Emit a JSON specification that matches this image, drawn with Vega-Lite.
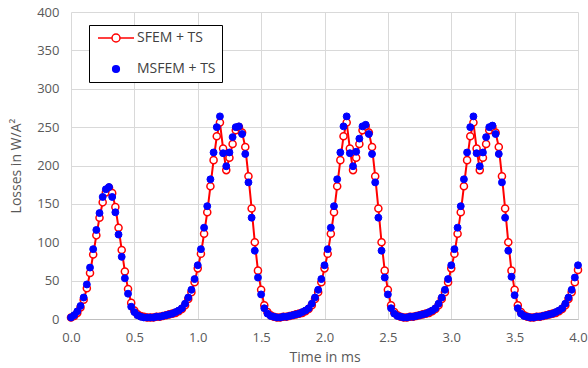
{
  "$schema": "https://vega.github.io/schema/vega-lite/v6.json",
  "width": 507,
  "height": 307,
  "autosize": {"type": "none"},
  "padding": {"left": 71, "top": 12, "right": 10, "bottom": 49},
  "background": "white",
  "config": {"view": {"stroke": null}, "font": "Open Sans"},
  "data": {"values": [
    {"t":0,"sfem":2,"msfem":2},{"t":0.025,"sfem":4,"msfem":5},{"t":0.05,"sfem":8,"msfem":10},{"t":0.075,"sfem":15,"msfem":17},
    {"t":0.1,"sfem":25,"msfem":28},{"t":0.125,"sfem":40,"msfem":45},{"t":0.15,"sfem":60,"msfem":67},{"t":0.175,"sfem":84,"msfem":91},
    {"t":0.2,"sfem":109,"msfem":116},{"t":0.225,"sfem":132,"msfem":138},{"t":0.25,"sfem":152,"msfem":159},{"t":0.275,"sfem":165,"msfem":169},
    {"t":0.3,"sfem":171,"msfem":172},{"t":0.325,"sfem":164,"msfem":159},{"t":0.35,"sfem":146,"msfem":139},{"t":0.375,"sfem":119,"msfem":110},
    {"t":0.4,"sfem":90,"msfem":81},{"t":0.425,"sfem":62,"msfem":53},{"t":0.45,"sfem":39,"msfem":33},{"t":0.475,"sfem":21,"msfem":16},
    {"t":0.5,"sfem":11,"msfem":9},{"t":0.525,"sfem":6,"msfem":5},{"t":0.55,"sfem":4,"msfem":3},{"t":0.575,"sfem":3,"msfem":2},
    {"t":0.6,"sfem":2,"msfem":2},{"t":0.625,"sfem":2,"msfem":2},{"t":0.65,"sfem":2,"msfem":2},{"t":0.675,"sfem":3,"msfem":3},
    {"t":0.7,"sfem":3,"msfem":3},{"t":0.725,"sfem":4,"msfem":4},{"t":0.75,"sfem":5,"msfem":5},{"t":0.775,"sfem":6,"msfem":6},
    {"t":0.8,"sfem":7,"msfem":7},{"t":0.825,"sfem":8,"msfem":9},{"t":0.85,"sfem":10,"msfem":11},{"t":0.875,"sfem":13,"msfem":14},
    {"t":0.9,"sfem":18,"msfem":20},{"t":0.925,"sfem":26,"msfem":28},{"t":0.95,"sfem":35,"msfem":38},{"t":0.975,"sfem":48,"msfem":52},

    {"t":1,"sfem":66,"msfem":70},{"t":1.025,"sfem":85,"msfem":91},{"t":1.05,"sfem":111,"msfem":119},{"t":1.075,"sfem":139,"msfem":147},
    {"t":1.1,"sfem":173,"msfem":182},{"t":1.125,"sfem":207,"msfem":217},{"t":1.15,"sfem":238,"msfem":250},{"t":1.175,"sfem":256,"msfem":264},
    {"t":1.2,"sfem":222,"msfem":216},{"t":1.225,"sfem":194,"msfem":199},{"t":1.25,"sfem":210,"msfem":217},{"t":1.275,"sfem":228,"msfem":237},
    {"t":1.3,"sfem":246,"msfem":250},{"t":1.325,"sfem":250,"msfem":251},{"t":1.35,"sfem":243,"msfem":241},{"t":1.375,"sfem":224,"msfem":215},
    {"t":1.4,"sfem":186,"msfem":178},{"t":1.425,"sfem":144,"msfem":132},{"t":1.45,"sfem":100,"msfem":89},{"t":1.475,"sfem":63,"msfem":54},
    {"t":1.5,"sfem":38,"msfem":32},{"t":1.525,"sfem":18,"msfem":14},{"t":1.55,"sfem":9,"msfem":7},{"t":1.575,"sfem":5,"msfem":4},
    {"t":1.6,"sfem":3,"msfem":3},{"t":1.625,"sfem":2,"msfem":2},{"t":1.65,"sfem":2,"msfem":2},{"t":1.675,"sfem":3,"msfem":3},
    {"t":1.7,"sfem":3,"msfem":3},{"t":1.725,"sfem":4,"msfem":4},{"t":1.75,"sfem":5,"msfem":5},{"t":1.775,"sfem":6,"msfem":6},
    {"t":1.8,"sfem":7,"msfem":7},{"t":1.825,"sfem":8,"msfem":9},{"t":1.85,"sfem":10,"msfem":11},{"t":1.875,"sfem":13,"msfem":14},
    {"t":1.9,"sfem":18,"msfem":20},{"t":1.925,"sfem":26,"msfem":28},{"t":1.95,"sfem":35,"msfem":38},{"t":1.975,"sfem":48,"msfem":52},

    {"t":2,"sfem":66,"msfem":70},{"t":2.025,"sfem":85,"msfem":91},{"t":2.05,"sfem":111,"msfem":119},{"t":2.075,"sfem":139,"msfem":147},
    {"t":2.1,"sfem":173,"msfem":182},{"t":2.125,"sfem":207,"msfem":217},{"t":2.15,"sfem":238,"msfem":251},{"t":2.175,"sfem":256,"msfem":264},
    {"t":2.2,"sfem":222,"msfem":216},{"t":2.225,"sfem":194,"msfem":199},{"t":2.25,"sfem":210,"msfem":218},{"t":2.275,"sfem":228,"msfem":235},
    {"t":2.3,"sfem":246,"msfem":251},{"t":2.325,"sfem":251,"msfem":253},{"t":2.35,"sfem":243,"msfem":241},{"t":2.375,"sfem":224,"msfem":215},
    {"t":2.4,"sfem":186,"msfem":178},{"t":2.425,"sfem":144,"msfem":132},{"t":2.45,"sfem":100,"msfem":89},{"t":2.475,"sfem":63,"msfem":54},
    {"t":2.5,"sfem":38,"msfem":32},{"t":2.525,"sfem":18,"msfem":14},{"t":2.55,"sfem":9,"msfem":7},{"t":2.575,"sfem":5,"msfem":4},
    {"t":2.6,"sfem":3,"msfem":3},{"t":2.625,"sfem":2,"msfem":2},{"t":2.65,"sfem":2,"msfem":2},{"t":2.675,"sfem":3,"msfem":3},
    {"t":2.7,"sfem":3,"msfem":3},{"t":2.725,"sfem":4,"msfem":4},{"t":2.75,"sfem":5,"msfem":5},{"t":2.775,"sfem":6,"msfem":6},
    {"t":2.8,"sfem":7,"msfem":7},{"t":2.825,"sfem":8,"msfem":9},{"t":2.85,"sfem":10,"msfem":11},{"t":2.875,"sfem":13,"msfem":14},
    {"t":2.9,"sfem":18,"msfem":20},{"t":2.925,"sfem":26,"msfem":28},{"t":2.95,"sfem":35,"msfem":38},{"t":2.975,"sfem":48,"msfem":52},

    {"t":3,"sfem":66,"msfem":70},{"t":3.025,"sfem":85,"msfem":91},{"t":3.05,"sfem":111,"msfem":119},{"t":3.075,"sfem":139,"msfem":147},
    {"t":3.1,"sfem":173,"msfem":182},{"t":3.125,"sfem":207,"msfem":217},{"t":3.15,"sfem":238,"msfem":250},{"t":3.175,"sfem":256,"msfem":264},
    {"t":3.2,"sfem":222,"msfem":216},{"t":3.225,"sfem":194,"msfem":199},{"t":3.25,"sfem":210,"msfem":217},{"t":3.275,"sfem":228,"msfem":237},
    {"t":3.3,"sfem":246,"msfem":250},{"t":3.325,"sfem":250,"msfem":252},{"t":3.35,"sfem":243,"msfem":241},{"t":3.375,"sfem":224,"msfem":215},
    {"t":3.4,"sfem":186,"msfem":178},{"t":3.425,"sfem":144,"msfem":132},{"t":3.45,"sfem":100,"msfem":89},{"t":3.475,"sfem":63,"msfem":55},
    {"t":3.5,"sfem":38,"msfem":31},{"t":3.525,"sfem":18,"msfem":14},{"t":3.55,"sfem":9,"msfem":7},{"t":3.575,"sfem":5,"msfem":4},
    {"t":3.6,"sfem":3,"msfem":3},{"t":3.625,"sfem":2,"msfem":2},{"t":3.65,"sfem":2,"msfem":2},{"t":3.675,"sfem":3,"msfem":3},
    {"t":3.7,"sfem":3,"msfem":3},{"t":3.725,"sfem":4,"msfem":4},{"t":3.75,"sfem":5,"msfem":5},{"t":3.775,"sfem":6,"msfem":6},
    {"t":3.8,"sfem":7,"msfem":7},{"t":3.825,"sfem":8,"msfem":9},{"t":3.85,"sfem":10,"msfem":11},{"t":3.875,"sfem":13,"msfem":14},
    {"t":3.9,"sfem":18,"msfem":20},{"t":3.925,"sfem":26,"msfem":28},{"t":3.95,"sfem":35,"msfem":38},{"t":3.975,"sfem":48,"msfem":54},
    {"t":4,"sfem":64,"msfem":70}
  ]},
  "encoding": {
    "x": {
      "field": "t", "type": "quantitative",
      "scale": {"domain": [0, 4], "nice": false, "zero": false},
      "axis": {
        "values": [0, 0.5, 1, 1.5, 2, 2.5, 3, 3.5, 4],
        "format": ".1f", "title": "Time in ms", "labelFlush": false,
        "grid": true, "gridColor": "#d9d9d9", "gridWidth": 1,
        "domainColor": "#bfbfbf", "ticks": false,
        "labelFontSize": 13, "labelColor": "#595959", "labelPadding": 12,
        "titleFontSize": 14, "titleColor": "#595959", "titleFontWeight": "normal", "titlePadding": 6
      }
    },
    "y": {
      "field": "sfem", "type": "quantitative",
      "scale": {"domain": [0, 400], "nice": false},
      "axis": {
        "values": [0, 50, 100, 150, 200, 250, 300, 350, 400],
        "title": "Losses in W/A²", "labelFlush": false,
        "grid": true, "gridColor": "#d9d9d9", "gridWidth": 1,
        "domain": false, "ticks": false,
        "labelFontSize": 13, "labelColor": "#595959", "labelPadding": 12,
        "titleFontSize": 14, "titleColor": "#595959", "titleFontWeight": "normal", "titlePadding": 13
      }
    },
    "stroke": {
      "datum": "SFEM + TS", "type": "nominal",
      "scale": {"domain": ["SFEM + TS", "MSFEM + TS"], "range": ["#FF0000", "#0000FF"]},
      "legend": {
        "orient": "none", "legendX": 18, "legendY": 13, "title": null,
        "strokeColor": "#000000", "fillColor": "#FFFFFF", "padding": 6,
        "symbolOffset": 14, "labelOffset": 14, "labelFontSize": 14, "labelColor": "#404040",
        "rowPadding": 17, "symbolSize": 64, "symbolStrokeWidth": 1.5,
        "encode": {"symbols": {"update": {
          "shape": {"signal": "datum.value === 'SFEM + TS' ? 'M-4.5,0L-1,0M1,0L4.5,0M-1,0A1,1 0 1,0 1,0A1,1 0 1,0 -1,0Z' : 'circle'"},
          "fill": {"signal": "datum.value === 'SFEM + TS' ? '#FFFFFF' : '#0000FF'"},
          "size": {"signal": "datum.value === 'SFEM + TS' ? 64 : 45"},
          "strokeWidth": {"value": 1.5}
        }}}
      }
    }
  },
  "layer": [
    {
      "mark": {"type": "line", "strokeWidth": 2}
    },
    {
      "mark": {"type": "point", "filled": true, "opacity": 1, "strokeWidth": 1.5, "size": 50, "fill": "#FFFFFF"}
    },
    {
      "mark": {"type": "point", "filled": true, "opacity": 1, "strokeWidth": 1, "size": 48, "fill": "#0000FF"},
      "encoding": {
        "y": {"field": "msfem", "type": "quantitative"},
        "stroke": {"datum": "MSFEM + TS", "type": "nominal"}
      }
    }
  ]
}
